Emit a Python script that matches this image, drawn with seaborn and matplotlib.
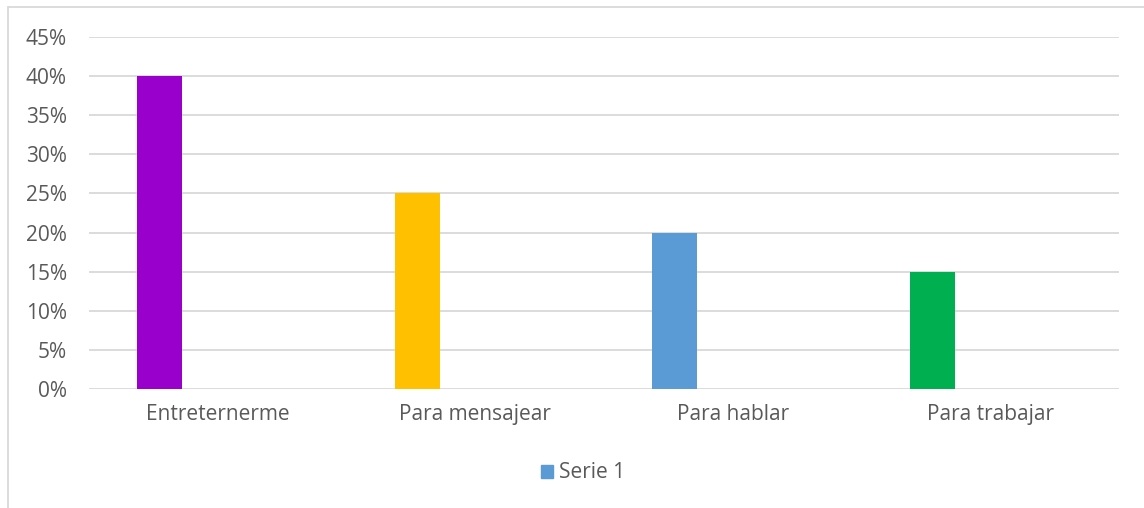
import numpy as np
import pandas as pd
import seaborn as sns
import matplotlib.pyplot as plt
from matplotlib.patches import Patch, Rectangle

categories = ['Entreternerme', 'Para mensajear', 'Para hablar', 'Para trabajar']
values = [0.40, 0.25, 0.20, 0.15]
bar_colors = ['#9900CC', '#FFC000', '#5B9BD5', '#00B050']
yticks = [0, 0.05, 0.10, 0.15, 0.20, 0.25, 0.30, 0.35, 0.40, 0.45]
legend_label = 'Serie 1'

sns.set_style('white')
plt.rcParams['font.family'] = ['Open Sans', 'DejaVu Sans']
text_color = '#595959'
fs = 15

df = pd.DataFrame({'cat': categories, 'val': values})

fig = plt.figure(figsize=(11.44, 5.08), dpi=100)
ax = fig.add_axes([89/1144, 1 - 389/508, 1030/1144, 352/508])

sns.barplot(data=df, x='cat', y='val', hue='cat', palette=bar_colors,
            width=0.175, legend=False, ax=ax, saturation=1, linewidth=0)
# shift bars left like the Excel layout
for p in ax.patches:
    p.set_x(p.get_x() - 0.226)

ax.set_xlim(-0.5, 3.5)
ax.set_ylim(0, 0.45)
ax.set_yticks(yticks)
ax.set_yticklabels([f'{int(round(t*100))}%' for t in yticks])
ax.yaxis.grid(True, color='#D9D9D9', linewidth=1.3)
ax.set_axisbelow(True)
for s in ax.spines.values():
    s.set_visible(False)
ax.tick_params(axis='y', length=0, pad=16, labelsize=fs, labelcolor=text_color)
ax.tick_params(axis='x', length=0, pad=11, labelsize=fs, labelcolor=text_color)
ax.set_xlabel('')
ax.set_ylabel('')

# outer chart border
fig.patches.append(Rectangle((8/1144, -0.1), 1.2, 1 - 7/508 + 0.1,
                             transform=fig.transFigure, fill=False,
                             edgecolor='#D9D9D9', linewidth=1.3))

fig.legend(handles=[Patch(color='#5B9BD5', label=legend_label)],
           loc='center', bbox_to_anchor=(583/1144, 1 - 473/508),
           frameon=False, fontsize=fs, labelcolor=text_color,
           handlelength=0.6, handleheight=0.6, handletextpad=0.3)

fig.savefig('out.png', dpi=100)
